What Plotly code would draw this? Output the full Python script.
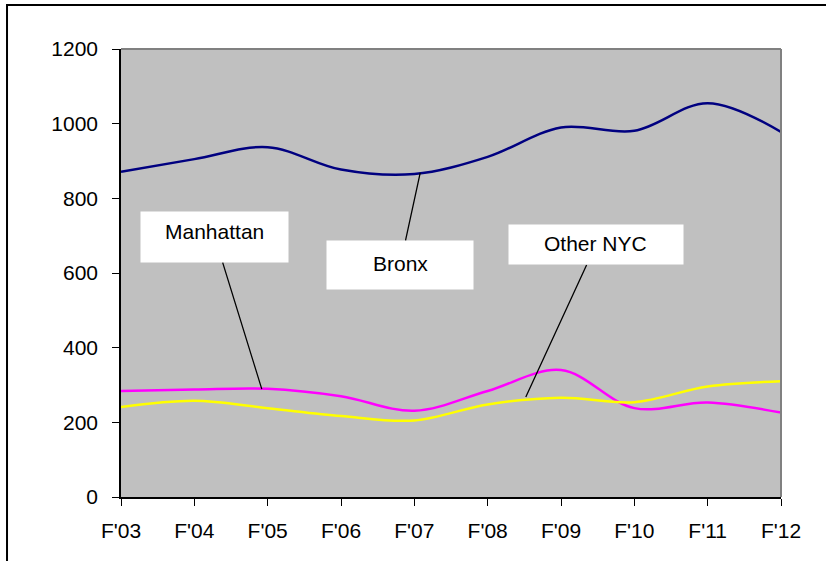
import plotly.graph_objects as go

years = ["F'03", "F'04", "F'05", "F'06", "F'07", "F'08", "F'09", "F'10", "F'11", "F'12"]
bronx = [871, 905, 937, 877, 865, 911, 990, 981, 1055, 978]
manhattan = [284, 288, 290, 270, 231, 284, 340, 238, 253, 226]
other_nyc = [241, 258, 238, 217, 205, 248, 266, 254, 296, 310]
y_ticks = [0, 200, 400, 600, 800, 1000, 1200]

# label annotations: (text, x index, y value, ax, ay, width, height, text y-offset)
labels = [
    ("Manhattan", 1.92, 289, -47, -152, 147, 50, 6),
    ("Bronx", 4.08, 868, -20, 92, 146, 48, 1),
    ("Other NYC", 5.52, 268, 70, -152, 174, 39, 1),
]

FONT = "Liberation Sans, Arial, sans-serif"
FS = 21
xs = list(range(len(years)))

fig = go.Figure()
for name, vals, col in [("Bronx", bronx, "#000080"),
                        ("Manhattan", manhattan, "#FF00FF"),
                        ("Other NYC", other_nyc, "#FFFF00")]:
    fig.add_trace(go.Scatter(x=xs, y=vals, mode="lines", name=name,
                             line=dict(color=col, width=2.5, shape="spline", smoothing=1),
                             hoverinfo="skip"))

for text, x, y, ax, ay, w, h, dy in labels:
    # white box with leader line
    fig.add_annotation(x=x, y=y, xref="x", yref="y", text=" ", showarrow=True,
                       ax=ax, ay=ay, arrowhead=0, arrowwidth=1.3, arrowcolor="black",
                       standoff=0, startstandoff=0,
                       bgcolor="white", width=w, height=h, borderpad=0,
                       font=dict(family=FONT, size=FS, color="black"))
    # label text
    fig.add_annotation(x=x, y=y, xref="x", yref="y", text=text, showarrow=False,
                       xshift=ax, yshift=-ay + dy, xanchor="center", yanchor="middle",
                       font=dict(family=FONT, size=FS, color="black"))

# plot area top/right gray border
fig.add_shape(type="line", xref="paper", yref="paper", x0=0, x1=1, y0=1, y1=1,
              line=dict(color="#808080", width=2))
fig.add_shape(type="line", xref="paper", yref="paper", x0=1, x1=1, y0=0, y1=1,
              line=dict(color="#808080", width=2))
# outer frame (left edge x=7px, top y=5px; right/bottom beyond the page)
fig.add_shape(type="rect", xref="paper", yref="paper",
              x0=-0.1727, x1=1.1, y0=-0.2, y1=1.098,
              line=dict(color="black", width=2), layer="below")

fig.update_layout(
    width=826, height=561,
    margin=dict(l=121, r=45, t=49, b=64),
    paper_bgcolor="white", plot_bgcolor="#C0C0C0",
    showlegend=False, hovermode=False,
    font=dict(family=FONT, size=FS, color="black"),
    xaxis=dict(range=[0, len(years) - 1], tickmode="array", tickvals=xs, ticktext=years,
               showgrid=False, zeroline=False, showline=True, linecolor="black", linewidth=1.5,
               ticks="outside", ticklen=7, tickcolor="black", tickwidth=1.2,
               ticklabelstandoff=7, tickfont=dict(size=FS)),
    yaxis=dict(range=[0, 1200], tickmode="array", tickvals=y_ticks,
               showgrid=False, zeroline=False, showline=True, linecolor="black", linewidth=1.5,
               ticks="outside", ticklen=7, tickcolor="black", tickwidth=1.2,
               ticklabelstandoff=10, tickfont=dict(size=FS)),
)

fig.write_html("out.html", config={"displayModeBar": False},
               post_script="document.body.style.margin='0';document.body.style.overflow='hidden';")
